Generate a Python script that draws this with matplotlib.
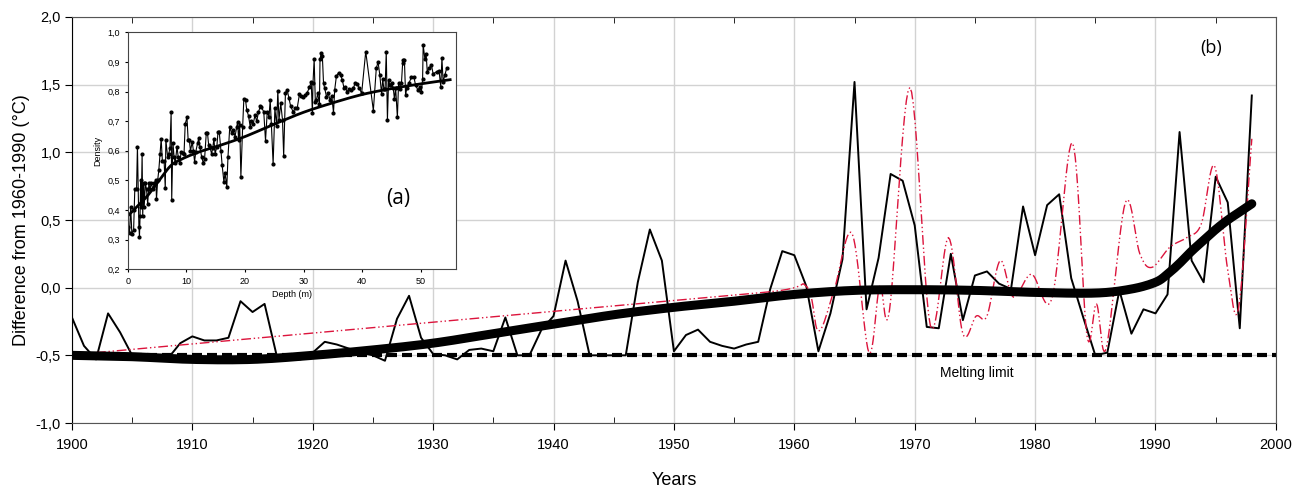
import numpy as np
import matplotlib
matplotlib.use("Agg")
import matplotlib.pyplot as plt
from matplotlib.ticker import FixedLocator, FixedFormatter, MultipleLocator

plt.rcParams['font.family'] = ['Liberation Sans', 'DejaVu Sans']

# annual anomaly (thin black line), 1900-1998
years = list(range(1900, 1999))
anomaly = [-0.22, -0.43, -0.53, -0.19, -0.33, -0.50, -0.50, -0.50, -0.52, -0.41,
           -0.36, -0.39, -0.39, -0.37, -0.10, -0.18, -0.12, -0.50, -0.53, -0.53,
           -0.48, -0.40, -0.42, -0.45, -0.48, -0.50, -0.54, -0.23, -0.06, -0.37,
           -0.49, -0.50, -0.53, -0.46, -0.45, -0.47, -0.22, -0.50, -0.50, -0.31,
           -0.21, 0.20, -0.10, -0.50, -0.50, -0.50, -0.50, 0.04, 0.43, 0.20,
           -0.47, -0.35, -0.31, -0.40, -0.43, -0.45, -0.42, -0.40, -0.01, 0.27,
           0.24, 0.01, -0.47, -0.19, 0.21, 1.52, -0.16, 0.22, 0.84, 0.79,
           0.46, -0.29, -0.30, 0.25, -0.24, 0.09, 0.12, 0.03, -0.01, 0.60,
           0.24, 0.61, 0.69, 0.07, -0.22, -0.50, -0.48, -0.02, -0.34, -0.16,
           -0.19, -0.05, 1.15, 0.20, 0.04, 0.82, 0.63, -0.30, 1.42]

# long-term trend (thick black line)
trend_years = [1900, 1905, 1910, 1915, 1920, 1925, 1930, 1935, 1940, 1945, 1950,
               1955, 1960, 1965, 1970, 1975, 1980, 1985, 1988, 1990, 1991, 1992,
               1993, 1994, 1995, 1996, 1997, 1998]
trend = [-0.50, -0.51, -0.53, -0.53, -0.50, -0.46, -0.41, -0.34, -0.27, -0.20, -0.145,
         -0.10, -0.05, -0.02, -0.015, -0.02, -0.035, -0.04, -0.01, 0.04, 0.10, 0.18,
         0.27, 0.35, 0.43, 0.50, 0.56, 0.62]

# modelled series (red dash-dot line)
model_years = [1902, 1920, 1940, 1958, 1961.0, 1962.0, 1963.3, 1964.8, 1966.2, 1967.1,
               1967.9, 1969.6, 1971.3, 1972.8, 1974.0, 1975.1, 1976.0, 1977.1, 1978.2,
               1979.7, 1981.4, 1983.1, 1984.3, 1985.1, 1985.9, 1987.5, 1988.7, 1989.7,
               1991.2, 1992.6, 1993.8, 1994.9, 1996.0, 1996.9, 1998.0]
model = [-0.48, -0.335, -0.175, -0.03, 0.01, -0.32, -0.02, 0.40, -0.48, 0.015,
         -0.17, 1.48, -0.28, 0.37, -0.34, -0.21, -0.21, 0.20, -0.07,
         0.10, -0.08, 1.07, -0.35, -0.12, -0.45, 0.63, 0.25, 0.15,
         0.30, 0.37, 0.47, 0.90, 0.13, -0.15, 1.10]

melting_limit = -0.5

# inset (a): firn density profile
depth = [0.1, 0.3, 0.5, 0.7, 1.0, 1.1, 1.2, 1.5, 1.65, 1.9, 2.0, 2.1, 2.2, 2.3, 2.45,
         2.55, 2.7, 2.8, 3.0, 3.2, 3.4, 3.6, 3.8, 4.0, 4.3, 4.5, 4.8, 4.9, 5.1, 5.3,
         5.5, 5.7, 5.9, 6.2, 6.4, 6.5, 6.8, 7.0, 7.2, 7.4, 7.5, 7.7, 7.9, 8.1, 8.4,
         8.6, 8.9, 9.1, 9.4, 9.6, 9.8, 10.1, 10.3, 10.5, 10.7, 11.0, 11.2, 11.4, 11.6,
         11.9, 12.1, 12.3, 12.6, 12.9, 13.1, 13.4, 13.6, 13.8, 14.0, 14.3, 14.5, 14.7,
         14.9, 15.2, 15.4, 15.6, 15.9, 16.1, 16.4, 16.6, 16.9, 17.1, 17.4, 17.7, 18.0,
         18.3, 18.6, 18.75, 18.9, 19.1, 19.3, 19.6, 19.8, 20.1, 20.3, 20.6, 20.9, 21.1,
         21.4, 21.7, 22.0, 22.3, 22.6, 22.8, 23.2, 23.5, 23.8, 24.1, 24.3, 24.5, 24.8,
         25.1, 25.4, 25.6, 25.8, 26.1, 26.4, 26.6, 26.9, 27.2, 27.5, 27.8, 28.2, 28.6,
         28.9, 29.3, 29.6, 29.9, 30.3, 30.6, 31.0, 31.3, 31.5, 31.6, 31.8, 32.0, 32.2,
         32.4, 32.7, 32.8, 33.0, 33.2, 33.4, 33.6, 33.9, 34.2, 34.5, 34.8, 35.1, 35.3,
         35.6, 36.0, 36.3, 36.6, 36.9, 37.1, 37.4, 37.8, 38.1, 38.5, 38.8, 39.1, 39.5,
         39.9, 40.6, 41.9, 42.4, 42.7, 43.0, 43.3, 43.5, 43.7, 43.9, 44.1, 44.3, 44.5,
         44.7, 45.0, 45.3, 45.5, 45.7, 46.0, 46.2, 46.4, 46.7, 46.9, 47.0, 47.2, 47.4,
         47.6, 48.0, 48.4, 48.8, 49.1, 49.5, 49.8, 50.1, 50.3, 50.4, 50.7, 50.9, 51.1,
         51.4, 51.8, 52.1, 52.7, 53.1, 53.4, 53.6, 53.8, 54.1, 54.4]
density = [0.344, 0.324, 0.41, 0.32, 0.333, 0.40, 0.47, 0.47, 0.614, 0.344, 0.31, 0.38,
           0.50, 0.41, 0.59, 0.38, 0.49, 0.41, 0.49, 0.47, 0.42, 0.49, 0.47, 0.49, 0.47,
           0.49, 0.50, 0.436, 0.50, 0.535, 0.59, 0.64, 0.567, 0.567, 0.473, 0.637, 0.58,
           0.59, 0.61, 0.73, 0.434, 0.628, 0.58, 0.558, 0.614, 0.58, 0.558, 0.597, 0.594,
           0.59, 0.69, 0.713, 0.637, 0.637, 0.60, 0.63, 0.60, 0.563, 0.597, 0.625, 0.642,
           0.614, 0.58, 0.558, 0.571, 0.661, 0.66, 0.62, 0.614, 0.59, 0.61, 0.64, 0.59,
           0.614, 0.665, 0.665, 0.60, 0.552, 0.496, 0.524, 0.479, 0.58, 0.68, 0.661, 0.67,
           0.648, 0.68, 0.698, 0.637, 0.687, 0.513, 0.68, 0.774, 0.77, 0.738, 0.718, 0.68,
           0.70, 0.69, 0.72, 0.70, 0.73, 0.75, 0.747, 0.732, 0.634, 0.732, 0.715, 0.772,
           0.69, 0.556, 0.743, 0.684, 0.803, 0.704, 0.76, 0.704, 0.583, 0.796, 0.805,
           0.777, 0.75, 0.732, 0.743, 0.743, 0.792, 0.785, 0.783, 0.788, 0.796, 0.814,
           0.833, 0.727, 0.828, 0.909, 0.766, 0.772, 0.794, 0.758, 0.909, 0.929, 0.92,
           0.828, 0.811, 0.783, 0.794, 0.772, 0.785, 0.729, 0.805, 0.853, 0.864, 0.856,
           0.839, 0.811, 0.817, 0.80, 0.808, 0.805, 0.811, 0.83, 0.826, 0.811, 0.794,
           0.935, 0.736, 0.878, 0.90, 0.856, 0.792, 0.841, 0.808, 0.808, 0.935, 0.704,
           0.839, 0.822, 0.828, 0.811, 0.774, 0.812, 0.713, 0.828, 0.808, 0.83, 0.898,
           0.907, 0.905, 0.788, 0.811, 0.83, 0.848, 0.85, 0.822, 0.805, 0.814, 0.80,
           0.841, 0.957, 0.909, 0.927, 0.867, 0.878, 0.89, 0.86, 0.867, 0.871, 0.817,
           0.912, 0.833, 0.856, 0.878]

fit_depth = [0, 3, 5, 7.2, 8.9, 12, 16, 20, 25, 30, 35, 40, 45, 50, 55]
fit_density = [0.38, 0.44, 0.49, 0.547, 0.569, 0.595, 0.62, 0.648, 0.69, 0.73, 0.762,
               0.79, 0.81, 0.826, 0.84]


def smooth(x, y, n=12):
    # Catmull-Rom style smoothing, like a spreadsheet "smoothed line"
    x = np.asarray(x, float)
    y = np.asarray(y, float)
    px = np.concatenate([[2 * x[0] - x[1]], x, [2 * x[-1] - x[-2]]])
    py = np.concatenate([[2 * y[0] - y[1]], y, [2 * y[-1] - y[-2]]])
    t = np.linspace(0, 1, n, endpoint=False)[:, None]
    xs, ys = [], []
    for i in range(1, len(px) - 2):
        for arr, out in ((px, xs), (py, ys)):
            p0, p1, p2, p3 = arr[i - 1], arr[i], arr[i + 1], arr[i + 2]
            seg = 0.5 * (2 * p1 + (-p0 + p2) * t + (2 * p0 - 5 * p1 + 4 * p2 - p3) * t ** 2
                         + (-p0 + 3 * p1 - 3 * p2 + p3) * t ** 3)
            out.append(seg.ravel())
    xs.append([x[-1]])
    ys.append([y[-1]])
    return np.concatenate(xs), np.concatenate(ys)


fig = plt.figure(figsize=(13.01, 4.87), dpi=100)
ax = fig.add_axes([0.0553, 0.1314, 0.9254, 0.8337])

ax.set_xlim(1900, 2000)
ax.set_ylim(-1, 2)
ax.grid(True, color='#d2d2d2', lw=1)
ax.set_axisbelow(True)

ax.axhline(melting_limit, color='black', lw=3, dashes=(2.4, 1.2), zorder=3)
ax.plot(years, anomaly, color='black', lw=1.4, zorder=4)
mx, my = smooth(model_years, model)
ax.plot(mx, my, color='#dc143c', lw=1.0, dashes=(7, 2, 1, 2, 1, 2), zorder=5)
tx, ty = smooth(trend_years, trend)
ax.plot(tx, ty, color='black', lw=6.5, solid_capstyle='round', zorder=6)

ax.xaxis.set_major_locator(MultipleLocator(10))
ax.xaxis.set_minor_locator(MultipleLocator(5))
yt = [-1.0, -0.5, 0.0, 0.5, 1.0, 1.5, 2.0]
ax.yaxis.set_major_locator(FixedLocator(yt))
ax.yaxis.set_major_formatter(FixedFormatter([f'{v:.1f}'.replace('.', ',') for v in yt]))
ax.tick_params(axis='x', which='major', direction='out', length=5, labelsize=10.5, pad=6)
ax.tick_params(axis='x', which='minor', direction='in', length=4, top=True, bottom=True)
ax.tick_params(axis='y', which='major', direction='out', length=5, labelsize=10.5, pad=3)
for s in ['top', 'right', 'bottom']:
    ax.spines[s].set_color('#555555')
ax.spines['left'].set_color('black')

ax.set_xlabel('Years', fontsize=13, labelpad=14)
ax.set_ylabel('Difference from 1960-1990 (°C)', fontsize=13, labelpad=4)
ax.text(1972.1, -0.63, 'Melting limit', fontsize=10, va='center', zorder=7)
ax.text(1993.7, 1.77, '(b)', fontsize=13, va='center',
        family=['Open Sans', 'DejaVu Sans'])

# inset (a)
ins = fig.add_axes([0.0982, 0.447, 0.2523, 0.4867])
ins.set_xlim(0, 56)
ins.set_ylim(0.2, 1.0)
ins.plot(depth, density, color='black', lw=0.8, marker='o', ms=2)
fx, fy = smooth(fit_depth, fit_density)
ins.plot(fx, fy, color='black', lw=2)
ins.set_xticks([0, 10, 20, 30, 40, 50])
it = [0.2, 0.3, 0.4, 0.5, 0.6, 0.7, 0.8, 0.9, 1.0]
ins.yaxis.set_major_locator(FixedLocator(it))
ins.yaxis.set_major_formatter(FixedFormatter([f'{v:.1f}'.replace('.', ',') for v in it]))
ins.tick_params(labelsize=6.5, length=2.5, width=0.8, pad=3)
for s in ins.spines.values():
    s.set_color('#444444')
ins.set_xlabel('Depth (m)', fontsize=6.5, labelpad=3)
ins.set_ylabel('Density', fontsize=6.5, labelpad=4)
ins.text(44, 0.42, '(a)', fontsize=15, family=['Open Sans', 'DejaVu Sans'])

fig.savefig('out.png', dpi=100)
